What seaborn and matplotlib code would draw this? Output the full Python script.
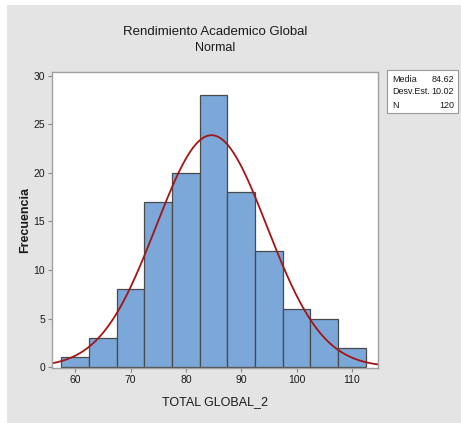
import numpy as np
import pandas as pd
import matplotlib
matplotlib.use('Agg')
import matplotlib.pyplot as plt
import seaborn as sns
from matplotlib.patches import Rectangle

# datos del histograma (centros de clase y frecuencias)
centros = [60, 65, 70, 75, 80, 85, 90, 95, 100, 105, 110]
frecuencias = [1, 3, 8, 17, 20, 28, 18, 12, 6, 5, 2]
media = 84.62
desv_est = 10.02
n_total = 120
ancho = 5

x_ticks = [60, 70, 80, 90, 100, 110]
y_ticks = [0, 5, 10, 15, 20, 25, 30]

df = pd.DataFrame({'TOTAL GLOBAL_2': centros, 'Frecuencia': frecuencias})

sns.set_style('white')
plt.rcParams['font.family'] = ['Liberation Sans', 'DejaVu Sans']
plt.rcParams['text.color'] = '#1a1a1a'

fig = plt.figure(figsize=(4.61, 4.23), dpi=100)
fig.patch.set_facecolor('white')
fig.add_artist(Rectangle((7 / 461, 0), 1, 1 - 5 / 423, transform=fig.transFigure,
                         facecolor='#e4e4e4', edgecolor='none', zorder=-10))

ax = fig.add_axes([52 / 461, 1 - 368 / 423, 326 / 461, 296 / 423])
ax.set_facecolor('white')

sns.histplot(data=df, x='TOTAL GLOBAL_2', weights='Frecuencia', binwidth=ancho,
             binrange=(centros[0] - ancho / 2, centros[-1] + ancho / 2),
             color='#7ba7d9', edgecolor='#4a4a4a', linewidth=0.9, alpha=1, ax=ax)

# curva normal ajustada
xs = np.linspace(55.8, 114.7, 300)
ys = n_total * ancho * np.exp(-0.5 * ((xs - media) / desv_est) ** 2) / (desv_est * np.sqrt(2 * np.pi))
sns.lineplot(x=xs, y=ys, color='#a31515', linewidth=1.3, ax=ax)

ax.set_xlim(55.8, 114.7)
ax.set_ylim(-0.1, 30.4)
ax.set_xticks(x_ticks)
ax.set_yticks(y_ticks)
ax.tick_params(axis='both', direction='out', length=3, width=0.8, color='#888888',
               labelsize=7.5, labelcolor='#1a1a1a', pad=2, bottom=True, left=True)
for s in ax.spines.values():
    s.set_color('#a0a0a0')
    s.set_linewidth(1)

ax.set_xlabel('TOTAL GLOBAL_2', fontsize=9, labelpad=8, color='#1a1a1a')
ax.set_ylabel('Frecuencia', fontsize=9, fontweight='bold', color='#1a1a1a')
ax.yaxis.set_label_coords(-21 / 326, 0.5)

fig.text(215 / 461, 1 - 32 / 423, 'Rendimiento Academico Global', ha='center', va='center', fontsize=9.5)
fig.text(215 / 461, 1 - 48 / 423, 'Normal', ha='center', va='center', fontsize=9)

# cuadro de estadisticos
fig.add_artist(Rectangle((387 / 461, 1 - 113 / 423), 71 / 461, 43 / 423, transform=fig.transFigure,
                         facecolor='white', edgecolor='#9a9a9a', linewidth=0.8))
etiquetas = ['Media', 'Desv.Est.', 'N']
valores = [f'{media:.2f}', f'{desv_est:.2f}', f'{n_total}']
for i, (e, v) in enumerate(zip(etiquetas, valores)):
    yy = 1 - (79 + i * 13) / 423
    fig.text(392 / 461, yy, e, ha='left', va='center', fontsize=6.5)
    fig.text(454 / 461, yy, v, ha='right', va='center', fontsize=6.5)

fig.savefig('out.png', dpi=100)
